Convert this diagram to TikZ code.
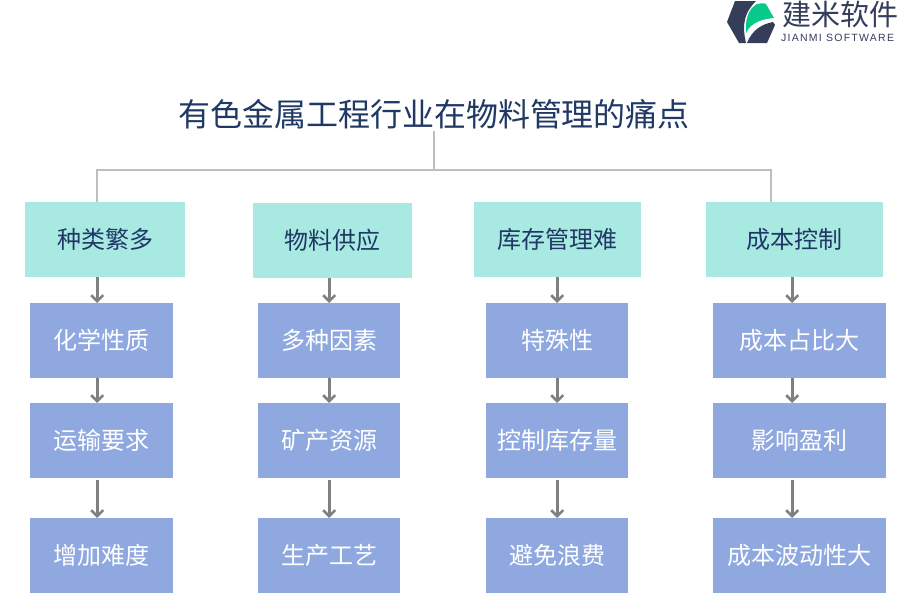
\documentclass[tikz,border=0pt]{standalone}
\usepackage{fontspec}
\setmainfont{Noto Sans CJK SC}
\newfontfamily\latinfont[LetterSpace=12]{Liberation Sans}
\usepackage{xcolor}
\usetikzlibrary{arrows.meta,positioning}
\definecolor{titleblue}{HTML}{1F3864}
\definecolor{topfill}{HTML}{A8E9E2}
\definecolor{subfill}{HTML}{8FA9E0}
\definecolor{logodark}{HTML}{343D5A}
\definecolor{logogreen}{HTML}{06C98A}
\tikzset{
  topbox/.style={fill=topfill,text=titleblue,font=\fontsize{24}{24}\selectfont,anchor=north west,align=center,inner sep=0pt,minimum height=75pt},
  subbox/.style={fill=subfill,text=white,font=\fontsize{24}{24}\selectfont,anchor=north west,align=center,inner sep=0pt,minimum height=75pt},
  trunk/.style={draw=black!25,line width=1.6pt},
  flow/.style={draw=black!50,line width=2.8pt,-{Straight Barb[length=6pt,width=12pt,line width=2.6pt]}}
}
\begin{document}
\begin{tikzpicture}[x=1pt,y=-1pt]
        \useasboundingbox (0,0) rectangle (900,600);
        % logo
        \fill[logodark] (735,1) -- (756,1) .. controls (746,11) and (741,22) .. (746,43) -- (739,43) -- (727,22) -- cycle;
        \fill[logodark] (747,43) -- (767,43) -- (775,25) -- (773,22) .. controls (762,24) and (752,30) .. (747,43) -- cycle;
        \fill[logogreen] (746,33) .. controls (745,20) and (748,9) .. (757,4) .. controls (760,3) and (764,3) .. (766,4) -- (774,18) .. controls (763,19) and (751,22) .. (746,33) -- cycle;
        \node[text=logodark,font=\fontsize{29}{29}\selectfont,anchor=west,inner sep=0pt] (logotext) at (782,14) {建米软件};
        \node[text=logodark,font=\latinfont\fontsize{10.5}{10.5}\selectfont,anchor=west,inner sep=0pt] (logosub) at (781,38) {JIANMI SOFTWARE};
        % title
        \node[text=titleblue,font=\fontsize{32}{32}\selectfont,inner sep=0pt] (title) at (434,114) {有色金属工程行业在物料管理的痛点};
        % first row
        \node[topbox,minimum width=160pt] (kinds) at (25,202) {种类繁多};
        \node[topbox,minimum width=159pt] (supply) at (253,203) {物料供应};
        \node[topbox,minimum width=167pt] (stock) at (474,202) {库存管理难};
        \node[topbox,minimum width=177pt] (cost) at (706,202) {成本控制};
        % column 1
        \node[subbox,minimum width=143pt] (chem) at (30,303) {化学性质};
        \node[subbox,minimum width=143pt] (trans) at (30,403) {运输要求};
        \node[subbox,minimum width=143pt] (hard) at (30,518) {增加难度};
        % column 2
        \node[subbox,minimum width=142pt] (factor) at (258,303) {多种因素};
        \node[subbox,minimum width=142pt] (mine) at (258,403) {矿产资源};
        \node[subbox,minimum width=142pt] (craft) at (258,518) {生产工艺};
        % column 3
        \node[subbox,minimum width=142pt] (special) at (486,303) {特殊性};
        \node[subbox,minimum width=142pt] (level) at (486,403) {控制库存量};
        \node[subbox,minimum width=142pt] (waste) at (486,518) {避免浪费};
        % column 4
        \node[subbox,minimum width=173pt] (share) at (713,303) {成本占比大};
        \node[subbox,minimum width=173pt] (profit) at (713,403) {影响盈利};
        \node[subbox,minimum width=173pt] (swing) at (713,518) {成本波动性大};
        % trunk lines
        \coordinate (hub) at (434,170);
        \draw[trunk] (title.south) ++(0,2) -- (hub);
        \draw[trunk] ([xshift=-8pt]kinds.north) |- (hub);
        \draw[trunk] ([xshift=-24pt]cost.north) |- (hub);
        % arrows
        \draw[flow] ([xshift=-4.5pt]chem.north |- kinds.south) -- ([xshift=-4.5pt]chem.north);
        \draw[flow] ([xshift=-4.5pt]chem.south) -- ([xshift=-4.5pt]trans.north);
        \draw[flow,shorten <=2pt] ([xshift=-4.5pt]trans.south) -- ([xshift=-4.5pt]hard.north);
        \draw[flow] (factor.north |- supply.south) -- (factor.north);
        \draw[flow] (factor.south) -- (mine.north);
        \draw[flow,shorten <=2pt] (mine.south) -- (craft.north);
        \draw[flow] (special.north |- stock.south) -- (special.north);
        \draw[flow] (special.south) -- (level.north);
        \draw[flow,shorten <=2pt] (level.south) -- (waste.north);
        \draw[flow] ([xshift=-7.5pt]share.north |- cost.south) -- ([xshift=-7.5pt]share.north);
        \draw[flow] ([xshift=-7.5pt]share.south) -- ([xshift=-7.5pt]profit.north);
        \draw[flow,shorten <=2pt] ([xshift=-7.5pt]profit.south) -- ([xshift=-7.5pt]swing.north);
      \end{tikzpicture}
\end{document}
